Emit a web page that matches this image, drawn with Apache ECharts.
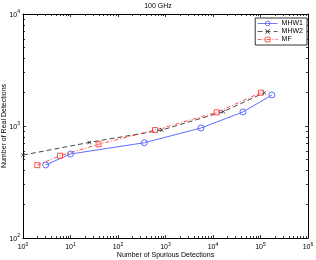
<!DOCTYPE html>
<html><head><meta charset="utf-8">
<script src="https://cdn.jsdelivr.net/npm/echarts@6/dist/echarts.min.js"></script>
<style>html,body{margin:0;padding:0;background:#fff}#c{width:316px;height:260px}</style>
</head><body><div id="c"></div>
<script>
var titleText = '100 GHz';
var xName = 'Number of Spurious Detections';
var yName = 'Number of Real Detections';
var seriesNames = ['MHW1', 'MHW2', 'MF'];
var mhw1X = [3, 10, 358, 5590, 42700, 174000];
var mhw1Y = [449, 562, 709, 960, 1334, 1892];
var mhw2X = [1, 25, 832, 16500, 120000];
var mhw2Y = [550, 714, 920, 1343, 1983];
var mfX = [2, 6, 39, 601, 11970, 102000];
var mfY = [447, 543, 687, 920, 1325, 1983];
var xMin = 1, xMax = 1e6, yMin = 100, yMax = 1e4;

function pairs(xs, ys){ return xs.map(function(x,i){ return [x, ys[i]]; }); }
function minorLogValues(lo, hi){
  var out = [];
  for (var d = lo; d < hi; d *= 10) for (var m = 2; m <= 9; m++) out.push(Math.log10(d * m));
  return out;
}
function powLabel(v){
  var e = Math.round(Math.log10(v));
  return '{b|10}{s|' + e + '}';
}
var FONT = 'Liberation Sans';
var rich = {
  b: {fontSize: 7, fontFamily: FONT, color: '#000', verticalAlign: 'bottom', lineHeight: 9},
  s: {fontSize: 5, fontFamily: FONT, color: '#000', verticalAlign: 'top', lineHeight: 9, padding: [0,0,4,0]}
};
function majorAxis(min, max, pos, extra){
  var a = {
    type: 'log', logBase: 10, min: min, max: max, position: pos,
    axisLine: {show: true, onZero: false, lineStyle: {color: '#000', width: 1}},
    axisTick: {show: true, inside: true, length: 3, lineStyle: {color: '#000', width: 0.8}},
    axisLabel: {show: false},
    splitLine: {show: false}
  };
  for (var k in extra) a[k] = extra[k];
  return a;
}
// decorative minor-tick axes in log10 space
function minorAxis(min, max, pos){
  return {
    type: 'value', min: Math.log10(min), max: Math.log10(max), position: pos,
    axisLine: {show: false, onZero: false},
    axisTick: {show: true, inside: true, length: 2, customValues: minorLogValues(min, max), lineStyle: {color: '#000', width: 0.8}},
    axisLabel: {show: false},
    splitLine: {show: false}
  };
}
var crossPath = 'path://M0,1L1,0L5,4L9,0L10,1L6,5L10,9L9,10L5,6L1,10L0,9L4,5Z';
var nameStyle = {fontSize: 7, fontFamily: FONT, color: '#000'};

var chart = echarts.init(document.getElementById('c'), null, {renderer: 'canvas'});
chart.setOption({
  animation: false,
  backgroundColor: '#fff',
  title: {text: titleText, left: 'center', top: 3, padding: 0, textStyle: {fontSize: 7, fontWeight: 'normal', fontFamily: FONT, color: '#000'}},
  grid: {left: 23, right: 8, top: 14, bottom: 22, containLabel: false, outerBoundsMode: 'none'},
  legend: {
    orient: 'vertical', right: 9, top: 18,
    data: seriesNames,
    backgroundColor: '#fff', borderColor: '#000', borderWidth: 0.8,
    padding: [2, 4, 2, 2], itemGap: 1, itemWidth: 20, itemHeight: 6,
    lineStyle: {width: 0.8},
    itemStyle: {borderWidth: 0.8},
    textStyle: {fontSize: 7, fontFamily: FONT, color: '#000', padding: [0,0,0,-1]}
  },
  xAxis: [
    majorAxis(xMin, xMax, 'bottom', {name: xName, nameLocation: 'middle', nameGap: 14, nameMoveOverlap: false,
      nameTextStyle: nameStyle,
      axisLabel: {show: true, margin: 4, formatter: powLabel, rich: rich}}),
    majorAxis(xMin, xMax, 'top', {}),
    minorAxis(xMin, xMax, 'bottom'),
    minorAxis(xMin, xMax, 'top')
  ],
  yAxis: [
    majorAxis(yMin, yMax, 'left', {name: yName, nameLocation: 'middle', nameGap: 15, nameMoveOverlap: false,
      nameTextStyle: nameStyle,
      axisLabel: {show: true, margin: 3, formatter: powLabel, rich: rich}}),
    majorAxis(yMin, yMax, 'right', {}),
    minorAxis(yMin, yMax, 'left'),
    minorAxis(yMin, yMax, 'right')
  ],
  series: [
    {name: seriesNames[0], type: 'line', data: pairs(mhw1X, mhw1Y), xAxisIndex: 0, yAxisIndex: 0,
      symbol: 'circle', symbolSize: 6, showAllSymbol: true,
      lineStyle: {color: '#4b5cff', width: 0.9, type: 'solid'},
      itemStyle: {color: 'rgba(0,0,0,0)', borderColor: '#4b5cff', borderWidth: 0.9}},
    {name: seriesNames[1], type: 'line', data: pairs(mhw2X, mhw2Y), xAxisIndex: 0, yAxisIndex: 0,
      symbol: crossPath, symbolSize: 4, showAllSymbol: true,
      lineStyle: {color: '#333', width: 0.9, type: [5, 3]},
      itemStyle: {color: '#222'}},
    {name: seriesNames[2], type: 'line', data: pairs(mfX, mfY), xAxisIndex: 0, yAxisIndex: 0,
      symbol: 'rect', symbolSize: 5, showAllSymbol: true,
      lineStyle: {color: '#ff3b3b', width: 0.9, type: [4, 2, 1, 2]},
      itemStyle: {color: 'rgba(0,0,0,0)', borderColor: '#ff3b3b', borderWidth: 0.9}}
  ]
});
</script></body></html>
